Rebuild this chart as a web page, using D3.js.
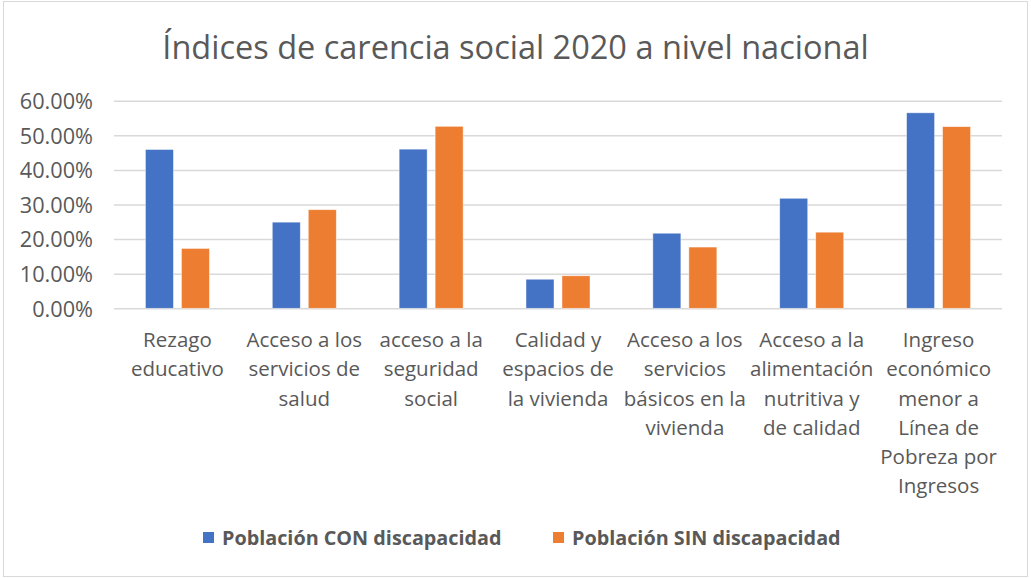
<!DOCTYPE html>
<html>
<head>
<meta charset="utf-8">
<script src="https://cdn.jsdelivr.net/npm/d3@7"></script>
<style>
  body { margin: 0; background: #fff; }
  text { font-family: "Open Sans", sans-serif; fill: #595959; }
</style>
</head>
<body>
<svg id="chart" width="1031" height="578"></svg>
<script>
// indices de carencia social - bar chart

var categories = [
    ["Rezago", "educativo"],
    ["Acceso a los", "servicios de", "salud"],
    ["acceso a la", "seguridad", "social"],
    ["Calidad y", "espacios de", "la vivienda"],
    ["Acceso a los", "servicios", "básicos en la", "vivienda"],
    ["Acceso a la", "alimentación", "nutritiva y", "de calidad"],
    ["Ingreso", "económico", "menor a", "Línea de", "Pobreza por", "Ingresos"]
];
var series = ["Población CON discapacidad", "Población SIN discapacidad"];
var conDisc = [0.459, 0.249, 0.460, 0.084, 0.217, 0.318, 0.565];
var sinDisc = [0.173, 0.285, 0.526, 0.094, 0.177, 0.220, 0.525];
var yTicks = [0, 0.1, 0.2, 0.3, 0.4, 0.5, 0.6];

var cmap = ['#4472c4', '#ed7d31'];
var title = "Índices de carencia social 2020 a nivel nacional";

var svg = d3.select("#chart");
var margin = {top: 100.7, left: 114, right: 29, bottom: 269.7};
var width = 1031 - margin.left - margin.right;
var height = 578 - margin.top - margin.bottom;

// chart border
svg.append("rect")
    .attr("x", 3.5).attr("y", 1.5)
    .attr("width", 1024).attr("height", 575)
    .attr("fill", "#fff")
    .attr("stroke", "#d9d9d9")
    .attr("stroke-width", 1);

svg.append("text")
    .attr("x", 515.5)
    .attr("y", 59)
    .attr("text-anchor", "middle")
    .style("font-size", "32.5px")
    .text(title);

var g = svg.append("g")
    .attr("transform", "translate(" + margin.left + "," + margin.top + ")");

var idx = d3.range(categories.length);
var x0 = d3.scaleBand().domain(idx).range([0, width])
    .paddingInner(0.4955).paddingOuter(0.4955 / 2);
var x1 = d3.scaleBand().domain([0, 1]).range([0, x0.bandwidth()])
    .paddingInner(0.222);
var y = d3.scaleLinear().domain([0, 0.6]).range([height, 0]);

// grid
var yAxis = d3.axisLeft(y)
    .tickValues(yTicks)
    .tickSize(-width)
    .tickPadding(21)
    .tickFormat(d3.format(".2%"));

var ga = g.append("g").attr("class", "axis axis--y").call(yAxis);
ga.select(".domain").remove();
ga.selectAll(".tick line")
    .attr("stroke", "#d9d9d9")
    .attr("stroke-width", 1.5);
ga.selectAll(".tick text")
    .attr("fill", "#595959")
    .attr("dy", "0.36em")
    .style("font-size", "21.7px")
    .style("font-family", "'Open Sans', sans-serif");

// bars
var values = [conDisc, sinDisc];
values.forEach(function(vals, s) {
    g.selectAll(".bar" + s)
        .data(vals)
        .enter().append("rect")
        .attr("class", "bar" + s)
        .attr("x", function(d, i) { return x0(i) + x1(s); })
        .attr("y", function(d) { return y(d); })
        .attr("width", x1.bandwidth())
        .attr("height", function(d) { return height - y(d); })
        .attr("fill", cmap[s])
        .attr("stroke", "rgba(255,255,255,0.6)")
        .attr("stroke-width", 0.75);
});

// category labels
var lineH = 29.2;
var cat = g.selectAll(".cat")
    .data(categories)
    .enter().append("text")
    .attr("class", "cat")
    .attr("text-anchor", "middle")
    .style("font-size", "20.5px")
    .attr("transform", function(d, i) {
        return "translate(" + (x0(i) + x0.bandwidth() / 2) + "," + (height + 39) + ")";
    });
cat.selectAll("tspan")
    .data(function(d) { return d; })
    .enter().append("tspan")
    .attr("x", 0)
    .attr("y", function(d, j) { return j * lineH; })
    .text(function(d) { return d; });

// legend
var legX = [203, 553];
var leg = svg.selectAll(".legend")
    .data(series)
    .enter().append("g")
    .attr("class", "legend")
    .attr("transform", function(d, i) { return "translate(" + legX[i] + ",532)"; });
leg.append("rect")
    .attr("width", 11).attr("height", 11)
    .attr("fill", function(d, i) { return cmap[i]; });
leg.append("text")
    .attr("x", 19)
    .attr("y", 5.5)
    .attr("dy", "0.36em")
    .style("font-size", "19.8px")
    .style("font-weight", "bold")
    .text(function(d) { return d; });
</script>
</body>
</html>
